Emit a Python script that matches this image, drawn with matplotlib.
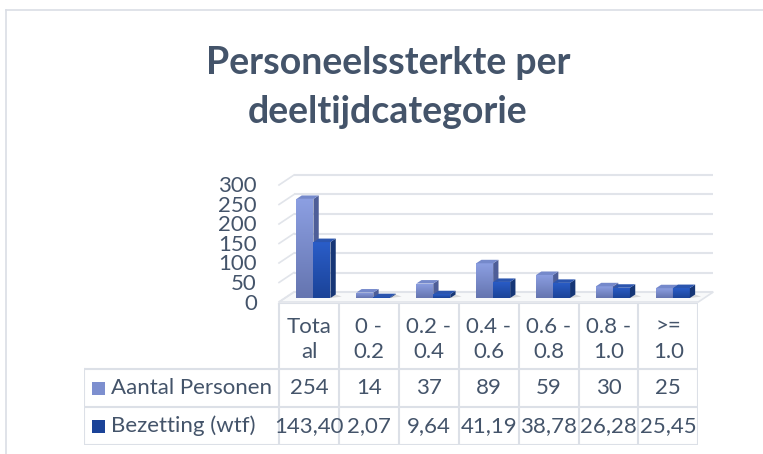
import numpy as np
import matplotlib
matplotlib.use('Agg')
import matplotlib.pyplot as plt
from matplotlib.patches import Polygon, Rectangle
from matplotlib.colors import LinearSegmentedColormap

plt.rcParams['font.family'] = ['Lato', 'DejaVu Sans']

# data
categories = ['Totaal', '0 - 0.2', '0.2 - 0.4', '0.4 - 0.6', '0.6 - 0.8', '0.8 - 1.0', '>= 1.0']
header_labels = [('Tota', 'al'), ('0 -', '0.2'), ('0.2 -', '0.4'), ('0.4 -', '0.6'),
                 ('0.6 -', '0.8'), ('0.8 -', '1.0'), ('>=', '1.0')]
aantal_personen = [254, 14, 37, 89, 59, 30, 25]
bezetting_wtf = [143.40, 2.07, 9.64, 41.19, 38.78, 26.28, 25.45]
series_names = ['Aantal Personen', 'Bezetting (wtf)']
y_ticks = [0, 50, 100, 150, 200, 250, 300]
title_lines = ['Personeelssterkte per', 'deeltijdcategorie']

TXT = '#44546A'
GRID = '#E1E4EA'
FS = 16
W, H = 763, 454

# pixel geometry of the front plane
X0, CW = 279, 59.9      # px of category 0 left edge, px per category
Y0, K = 302, 0.39       # px of value 0, px per unit

fig = plt.figure(figsize=(W / 100, H / 100), dpi=100)
fig.patch.set_facecolor('white')

# chart frame
frame = fig.add_axes([0, 0, 1, 1])
frame.set_xlim(0, W)
frame.set_ylim(H, 0)
frame.axis('off')
frame.plot([6, W], [10, 10], color='#DADEE5', lw=1.2)
frame.plot([6, 6], [10, H], color='#DADEE5', lw=1.2)

# title
for line, base in zip(title_lines, [74, 123]):
    frame.text(388, base, line, ha='center', va='baseline', fontsize=27,
               fontweight='bold', color=TXT)

# chart axes in category / value units
xlim = (-0.6, 7.6)
ylim = (-20, 340)
left = X0 + CW * xlim[0]
right = X0 + CW * xlim[1]
top = Y0 - K * ylim[1]
bottom = Y0 - K * ylim[0]
ax = fig.add_axes([left / W, 1 - bottom / H, (right - left) / W, (bottom - top) / H])
ax.axis('off')

n = len(categories)
dxw, dyw = 15 / CW, 10 / K          # back wall offset
dxb, dyb = 4.5 / CW, 4 / K           # bar plane offset
ddx, ddy = 5.3 / CW, 3.5 / K         # bar depth
bw = 17 / CW
g0 = (1 - 2 * bw) / 2

# floor
ax.add_patch(Polygon([(0, 0), (n, 0), (n + dxw, dyw), (dxw, dyw)], closed=True,
                     fc='#F8F9FA', ec=GRID, lw=1.2, zorder=1))
# walls gridlines
for v in y_ticks:
    ax.plot([dxw, n + dxw], [v + dyw, v + dyw], color=GRID, lw=1.5, zorder=1,
            solid_capstyle='butt')
    ax.plot([0, dxw], [v, v + dyw], color=GRID, lw=1.2, zorder=1)
    ax.text(-22 / CW, v - 1.5 / K, str(v), ha='right', va='center', fontsize=FS,
            color=TXT)

styles = [
    dict(top='#8C9FE2', bot='#6575B0', side='#4E5E98', cap='#7589CB'),
    dict(top='#2A5DC8', bot='#1B4398', side='#163676', cap='#2B55AF'),
]

for i in range(n):
    for s, vals in enumerate([aantal_personen, bezetting_wtf]):
        st = styles[s]
        v = vals[i]
        xl = i + g0 + s * bw + dxb
        xr = xl + bw
        yb = dyb
        yt = dyb + v
        # soft shadow on the floor
        ax.add_patch(Polygon([(xr, yb), (xr + ddx + 6 / CW, yb + ddy * 0.4),
                              (xr + ddx, yb + ddy), (xr, yb + ddy)],
                             closed=True, fc='#9A9A9A', ec='none', alpha=0.35, zorder=2))
        front = ax.bar(xl, v, width=bw, bottom=yb, align='edge', color=st['bot'],
                       lw=0, zorder=3)[0]
        cmap = LinearSegmentedColormap.from_list('g', [st['bot'], st['top']])
        im = ax.imshow(np.linspace(0, 1, 64).reshape(-1, 1), cmap=cmap, origin='lower',
                       extent=[xl, xr, yb, yt], aspect='auto', zorder=3)
        im.set_clip_path(front)
        ax.add_patch(Polygon([(xr, yb), (xr + ddx, yb + ddy), (xr + ddx, yt + ddy), (xr, yt)],
                             closed=True, fc=st['side'], ec='none', zorder=3))
        ax.add_patch(Polygon([(xl, yt), (xr, yt), (xr + ddx, yt + ddy), (xl + ddx, yt + ddy)],
                             closed=True, fc=st['cap'], ec='none', zorder=3))

ax.set_xlim(xlim)
ax.set_ylim(ylim)

# data table
T_TOP, T_H = 303, 142
lab_x0 = -(X0 - 84) / CW
tab = fig.add_axes([(X0 + CW * lab_x0) / W, 1 - (T_TOP + T_H) / H,
                    (CW * (n - lab_x0)) / W, T_H / H])
tab.set_xlim(lab_x0, n)
tab.set_ylim(T_H, 0)
tab.axis('off')

row_lines = [66, 104, 142]
LC = '#DCE0E7'
# header cells
tab.plot([0, n], [0, 0], color=LC, lw=1.5)
for i in range(n + 1):
    tab.plot([i, i], [0, T_H], color=LC, lw=1.5)
tab.plot([lab_x0, lab_x0], [row_lines[0], T_H], color=LC, lw=1.5)
for y in row_lines:
    tab.plot([lab_x0, n], [y, y], color=LC, lw=1.5)

for i, (l1, l2) in enumerate(header_labels):
    tab.text(i + 0.5, 24, l1, ha='center', va='center', fontsize=FS, color=TXT)
    tab.text(i + 0.5, 49, l2, ha='center', va='center', fontsize=FS, color=TXT)

row_y = [85, 123]
sq = 13
for s, (name, vals) in enumerate(zip(series_names, [aantal_personen, bezetting_wtf])):
    y = row_y[s]
    tab.add_patch(Rectangle((-(X0 - 92) / CW, y - sq / 2), sq / CW, sq,
                            fc=styles[s]['bot'] if s else '#7D8FCF', ec='none'))
    tab.text(-(X0 - 111) / CW, y, name, ha='left', va='center', fontsize=FS, color=TXT)
    for i, v in enumerate(vals):
        label = str(v) if s == 0 else f'{v:.2f}'.replace('.', ',')
        tab.text(i + 0.5, y, label, ha='center', va='center', fontsize=FS, color=TXT)

fig.savefig('out.png', dpi=100)
